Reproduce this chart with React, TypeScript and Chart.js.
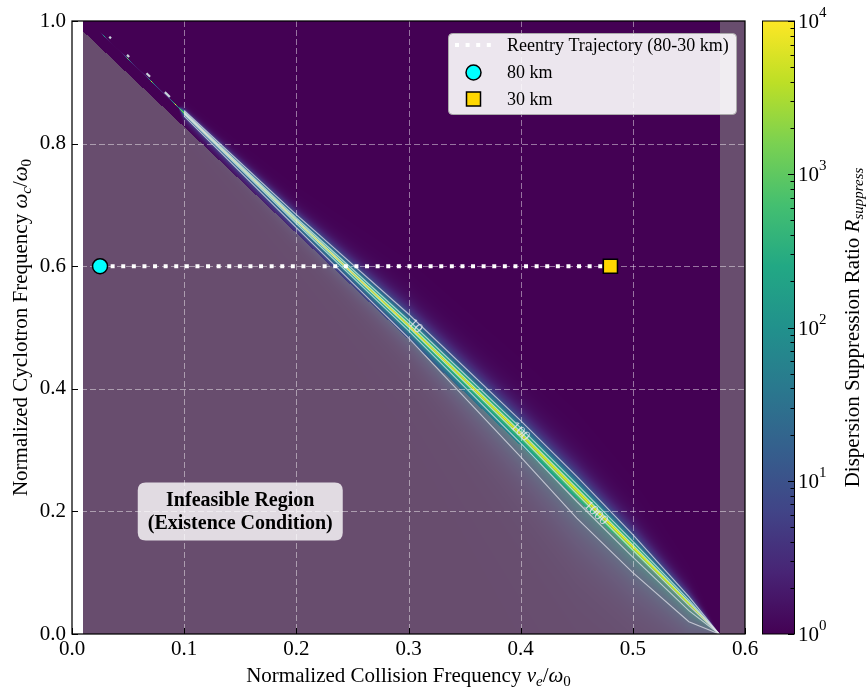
import React, { useEffect, useRef } from "react";
import { Chart, registerables } from "chart.js";
Chart.register(...registerables);

// ---------------- data ----------------
const xTicks = [0, 0.1, 0.2, 0.3, 0.4, 0.5, 0.6];
const yTicks = [0, 0.2, 0.4, 0.6, 0.8, 1.0];
const cbarExponents = [0, 1, 2, 3, 4];

// ridge of the suppression ratio (peak ~1e4) and distance to the R=10 contour on each side
const ridgeX = [0.01, 0.095, 0.1, 0.2, 0.3, 0.4, 0.45, 0.5, 0.55, 0.577];
const ridgeY = [1.008, 0.859, 0.85, 0.674, 0.503, 0.326, 0.234, 0.142, 0.05, 0.0];
const ridgeUp10 = [0, 0.0004, 0.004, 0.01, 0.019, 0.022, 0.023, 0.02, 0.011, 0];
const ridgeDn10 = [0, 0.0004, 0.005, 0.011, 0.02, 0.037, 0.045, 0.042, 0.03, 0];
const contourLevels = [10, 100, 1000];
const ridgeDotsX = [0.034, 0.05, 0.068, 0.085];
const ridgeDotsY = [0.973, 0.943, 0.912, 0.88];
const contourLabelX = [0.306, 0.3994, 0.467];
const contourLabelY = [0.502, 0.33, 0.197];

// infeasible region (existence condition)
const infeasibleX = [0.01, 0.5774];
const infeasibleY = [0.983, 0.0];
const infeasibleRightX = 0.5774;
const dataLeftX = 0.01;

// reentry trajectory
const trajectoryX = [0.025, 0.48];
const trajectoryY = [0.6, 0.6];
const marker80 = [0.025, 0.6];
const marker30 = [0.48, 0.6];
const legendLabels = ["Reentry Trajectory (80-30 km)", "80 km", "30 km"];
const regionLabel = ["Infeasible Region", "(Existence Condition)"];
const regionLabelPos = [0.15, 0.2];

// ---------------- helpers ----------------
const FONT = '"Liberation Serif", "Times New Roman", "DejaVu Serif", serif';
const LN4 = Math.log(4);
const P_UP = 0.9;
const P_DN = 0.75;

const VIRIDIS_HEX = ["#440154", "#482475", "#414487", "#355f8d", "#2a788e", "#21918c", "#22a884", "#44bf70", "#7ad151", "#bddf26", "#fde725"];
const VIRIDIS = VIRIDIS_HEX.map((h) => [parseInt(h.slice(1, 3), 16), parseInt(h.slice(3, 5), 16), parseInt(h.slice(5, 7), 16)]);
function viridis(t: number) {
  const tt = Math.max(0, Math.min(1, t)) * (VIRIDIS.length - 1);
  const i = Math.min(VIRIDIS.length - 2, Math.floor(tt));
  const f = tt - i;
  const a = VIRIDIS[i], b = VIRIDIS[i + 1];
  return [a[0] + (b[0] - a[0]) * f, a[1] + (b[1] - a[1]) * f, a[2] + (b[2] - a[2]) * f];
}
function interp(xs: number[], ys: number[], x: number) {
  if (x <= xs[0]) return ys[0];
  const n = xs.length;
  if (x >= xs[n - 1]) return ys[n - 1];
  for (let i = 0; i < n - 1; i++) {
    if (x <= xs[i + 1]) {
      const f = (x - xs[i]) / (xs[i + 1] - xs[i]);
      return ys[i] + (ys[i + 1] - ys[i]) * f;
    }
  }
  return ys[n - 1];
}
function contourOffset(level: number, w: number, p: number) {
  return w * Math.pow(Math.log(4 / Math.log10(level)) / LN4, 1 / p);
}

type Part = { t: string; it?: boolean; b?: boolean; s: number; dy?: number };
function fontOf(p: Part) {
  return `${p.b ? "bold " : ""}${p.it ? "italic " : ""}${p.s}px ${FONT}`;
}
function drawRich(ctx: CanvasRenderingContext2D, parts: Part[], x: number, y: number, align: "left" | "center") {
  ctx.textBaseline = "alphabetic";
  ctx.textAlign = "left";
  let total = 0;
  for (const p of parts) {
    ctx.font = fontOf(p);
    total += ctx.measureText(p.t).width;
  }
  let cx = align === "center" ? x - total / 2 : x;
  for (const p of parts) {
    ctx.font = fontOf(p);
    ctx.fillText(p.t, cx, y + (p.dy || 0));
    cx += ctx.measureText(p.t).width;
  }
}
function roundRectPath(ctx: CanvasRenderingContext2D, x: number, y: number, w: number, h: number, r: number) {
  ctx.beginPath();
  ctx.moveTo(x + r, y);
  ctx.lineTo(x + w - r, y);
  ctx.quadraticCurveTo(x + w, y, x + w, y + r);
  ctx.lineTo(x + w, y + h - r);
  ctx.quadraticCurveTo(x + w, y + h, x + w - r, y + h);
  ctx.lineTo(x + r, y + h);
  ctx.quadraticCurveTo(x, y + h, x, y + h - r);
  ctx.lineTo(x, y + r);
  ctx.quadraticCurveTo(x, y, x + r, y);
  ctx.closePath();
}

// ---------------- plugins ----------------
const heatmapPlugin = {
  id: "heatmap",
  beforeDraw(chart: any) {
    const { ctx, chartArea: ca } = chart;
    const xs = chart.scales.x, ys = chart.scales.y;
    const L = Math.round(ca.left), T = Math.round(ca.top), R = Math.round(ca.right), B = Math.round(ca.bottom);
    const W = R - L, H = B - T;
    const img = ctx.createImageData(W, H);
    const d = img.data;
    const yvals = new Float64Array(H);
    for (let j = 0; j < H; j++) yvals[j] = ys.getValueForPixel(T + j + 0.5);
    for (let i = 0; i < W; i++) {
      const xv = xs.getValueForPixel(L + i + 0.5);
      const white = xv < dataLeftX;
      const inRidge = xv >= ridgeX[0] && xv <= ridgeX[ridgeX.length - 1];
      const yr = interp(ridgeX, ridgeY, xv);
      const wu = interp(ridgeX, ridgeUp10, xv);
      const wd = interp(ridgeX, ridgeDn10, xv);
      const by = interp(infeasibleX, infeasibleY, xv);
      for (let j = 0; j < H; j++) {
        const k = (j * W + i) * 4;
        if (white) {
          d[k] = d[k + 1] = d[k + 2] = 255;
          d[k + 3] = 255;
          continue;
        }
        const yv = yvals[j];
        let lr = 0;
        if (inRidge) {
          const dd = yv - yr;
          const w = dd >= 0 ? wu : wd;
          if (w > 1e-7) lr = 4 * Math.exp(-LN4 * Math.pow(Math.abs(dd) / w, dd >= 0 ? P_UP : P_DN));
        }
        const c = viridis(lr / 4);
        let r = c[0], g = c[1], b = c[2];
        if (xv > infeasibleRightX || yv < by) {
          r = r * 0.4 + 128 * 0.6;
          g = g * 0.4 + 128 * 0.6;
          b = b * 0.4 + 128 * 0.6;
        }
        d[k] = r;
        d[k + 1] = g;
        d[k + 2] = b;
        d[k + 3] = 255;
      }
    }
    ctx.putImageData(img, L, T);

    // dashed grid
    ctx.save();
    ctx.strokeStyle = "rgba(255,255,255,0.45)";
    ctx.lineWidth = 1;
    ctx.setLineDash([6, 3]);
    for (const v of xTicks.slice(1, -1)) {
      const px = Math.round(xs.getPixelForValue(v)) + 0.5;
      ctx.beginPath();
      ctx.moveTo(px, ca.top);
      ctx.lineTo(px, ca.bottom);
      ctx.stroke();
    }
    for (const v of yTicks.slice(1, -1)) {
      const py = Math.round(ys.getPixelForValue(v)) + 0.5;
      ctx.beginPath();
      ctx.moveTo(ca.left, py);
      ctx.lineTo(ca.right, py);
      ctx.stroke();
    }
    ctx.restore();
  },
};

const overlayPlugin = {
  id: "overlay",
  afterDraw(chart: any) {
    const { ctx, chartArea: ca } = chart;
    const xs = chart.scales.x, ys = chart.scales.y;
    ctx.save();

    // contour labels
    ctx.fillStyle = "rgba(225,225,235,0.9)";
    ctx.font = `14px ${FONT}`;
    ctx.textAlign = "center";
    ctx.textBaseline = "middle";
    contourLevels.forEach((lv, i) => {
      const px = xs.getPixelForValue(contourLabelX[i]);
      const py = ys.getPixelForValue(contourLabelY[i]);
      const p2x = xs.getPixelForValue(ridgeX[5]) - xs.getPixelForValue(ridgeX[4]);
      const p2y = ys.getPixelForValue(ridgeY[5]) - ys.getPixelForValue(ridgeY[4]);
      ctx.save();
      ctx.translate(px, py);
      ctx.rotate(Math.atan2(p2y, p2x));
      ctx.fillText(String(lv), 0, 0);
      ctx.restore();
    });

    // frame
    ctx.strokeStyle = "#000";
    ctx.lineWidth = 1.25;
    ctx.strokeRect(ca.left, ca.top, ca.right - ca.left, ca.bottom - ca.top);
    // inward ticks
    ctx.lineWidth = 1;
    for (const v of xTicks) {
      const px = Math.round(xs.getPixelForValue(v)) + 0.5;
      ctx.beginPath();
      ctx.moveTo(px, ca.bottom);
      ctx.lineTo(px, ca.bottom - 6);
      ctx.stroke();
    }
    for (const v of yTicks) {
      const py = Math.round(ys.getPixelForValue(v)) + 0.5;
      ctx.beginPath();
      ctx.moveTo(ca.left, py);
      ctx.lineTo(ca.left + 6, py);
      ctx.stroke();
    }

    // colorbar
    const cbL = 762, cbR = 794, cbT = ca.top, cbB = ca.bottom;
    const grad = ctx.createLinearGradient(0, cbB, 0, cbT);
    VIRIDIS_HEX.forEach((h, i) => grad.addColorStop(i / (VIRIDIS_HEX.length - 1), h));
    ctx.fillStyle = grad;
    ctx.fillRect(cbL, cbT, cbR - cbL, cbB - cbT);
    ctx.strokeStyle = "#000";
    ctx.lineWidth = 1;
    ctx.strokeRect(cbL + 0.5, cbT, cbR - cbL, cbB - cbT);
    const cbY = (e: number) => cbB - (e / 4) * (cbB - cbT);
    for (const e of cbarExponents) {
      const y = Math.round(cbY(e)) + 0.5;
      ctx.beginPath();
      ctx.moveTo(cbR, y);
      ctx.lineTo(cbR - 6, y);
      ctx.stroke();
      if (e < 4) {
        for (let k = 2; k <= 9; k++) {
          const ym = Math.round(cbY(e + Math.log10(k))) + 0.5;
          ctx.beginPath();
          ctx.moveTo(cbR, ym);
          ctx.lineTo(cbR - 3.5, ym);
          ctx.stroke();
        }
      }
    }
    ctx.fillStyle = "#000";
    for (const e of cbarExponents) {
      const y = cbY(e);
      drawRich(ctx, [{ t: "10", s: 21, dy: 7 }, { t: String(e), s: 15, dy: -4 }], 798, y, "left");
    }
    // colorbar label
    ctx.save();
    ctx.translate(859, (ca.top + ca.bottom) / 2);
    ctx.rotate(-Math.PI / 2);
    drawRich(ctx, [{ t: "Dispersion Suppression Ratio ", s: 21 }, { t: "R", it: true, s: 21 }, { t: "suppress", it: true, s: 15, dy: 4 }], 0, 0, "center");
    ctx.restore();

    // axis titles
    drawRich(
      ctx,
      [
        { t: "Normalized Collision Frequency ", s: 21 },
        { t: "ν", it: true, s: 21 },
        { t: "e", it: true, s: 15, dy: 4 },
        { t: "/", s: 21 },
        { t: "ω", it: true, s: 21 },
        { t: "0", s: 15, dy: 4 },
      ],
      (ca.left + ca.right) / 2,
      682,
      "center"
    );
    ctx.save();
    ctx.translate(27, (ca.top + ca.bottom) / 2);
    ctx.rotate(-Math.PI / 2);
    drawRich(
      ctx,
      [
        { t: "Normalized Cyclotron Frequency ", s: 21 },
        { t: "ω", it: true, s: 21 },
        { t: "c", it: true, s: 15, dy: 4 },
        { t: "/", s: 21 },
        { t: "ω", it: true, s: 21 },
        { t: "0", s: 15, dy: 4 },
      ],
      0,
      0,
      "center"
    );
    ctx.restore();

    // infeasible region label
    const bx = xs.getPixelForValue(regionLabelPos[0]);
    const by = ys.getPixelForValue(regionLabelPos[1]);
    roundRectPath(ctx, bx - 102.5, by - 29, 205, 58, 8);
    ctx.fillStyle = "rgba(255,255,255,0.8)";
    ctx.fill();
    ctx.fillStyle = "#000";
    ctx.font = `bold 20px ${FONT}`;
    ctx.textAlign = "center";
    ctx.textBaseline = "middle";
    ctx.fillText(regionLabel[0], bx, by - 11);
    ctx.fillText(regionLabel[1], bx, by + 12);

    // legend
    const lx = 448, ly = 33, lw = 288, lh = 81;
    roundRectPath(ctx, lx + 0.5, ly + 0.5, lw, lh, 4);
    ctx.fillStyle = "rgba(255,255,255,0.9)";
    ctx.fill();
    ctx.strokeStyle = "rgba(170,170,170,1)";
    ctx.lineWidth = 1;
    ctx.stroke();
    const rows = [45, 72.5, 99];
    ctx.save();
    ctx.strokeStyle = "#fff";
    ctx.lineWidth = 4;
    ctx.lineCap = "butt";
    ctx.setLineDash([4, 6.6]);
    ctx.beginPath();
    ctx.moveTo(455, rows[0]);
    ctx.lineTo(495, rows[0]);
    ctx.stroke();
    ctx.restore();
    ctx.beginPath();
    ctx.arc(473.5, rows[1], 7.5, 0, Math.PI * 2);
    ctx.fillStyle = "#00ffff";
    ctx.fill();
    ctx.strokeStyle = "#000";
    ctx.lineWidth = 1.5;
    ctx.stroke();
    ctx.fillStyle = "#ffd700";
    ctx.fillRect(466.5, rows[2] - 7, 14, 14);
    ctx.strokeRect(466.5, rows[2] - 7, 14, 14);
    ctx.fillStyle = "#000";
    ctx.font = `18px ${FONT}`;
    ctx.textAlign = "left";
    ctx.textBaseline = "middle";
    legendLabels.forEach((t, i) => ctx.fillText(t, 507, rows[i] + 1));

    ctx.restore();
  },
};

// ---------------- datasets ----------------
function buildContours() {
  const sets: any[] = [];
  for (const lv of contourLevels) {
    for (const side of [1, -1]) {
      const data: { x: number; y: number }[] = [];
      for (let i = 2; i < ridgeX.length; i++) {
        const w = side > 0 ? ridgeUp10[i] : ridgeDn10[i];
        const p = side > 0 ? P_UP : P_DN;
        data.push({ x: ridgeX[i], y: ridgeY[i] + side * contourOffset(lv, w, p) });
      }
      sets.push({
        type: "line",
        label: `contour ${lv}`,
        data,
        borderColor: "rgba(225,225,235,0.75)",
        borderWidth: 1.1,
        pointRadius: 0,
        fill: false,
        tension: 0,
      });
    }
  }
  return sets;
}

export default function App() {
  const ref = useRef<HTMLCanvasElement | null>(null);
  useEffect(() => {
    if (!ref.current) return;
    const chart = new Chart(ref.current, {
      type: "scatter",
      data: {
        datasets: [
          {
            label: legendLabels[2],
            data: [{ x: marker30[0], y: marker30[1] }],
            pointStyle: "rect",
            pointRadius: 10,
            backgroundColor: "#ffd700",
            borderColor: "#000",
            borderWidth: 1.5,
          },
          {
            label: legendLabels[1],
            data: [{ x: marker80[0], y: marker80[1] }],
            pointStyle: "circle",
            pointRadius: 7.5,
            backgroundColor: "#00ffff",
            borderColor: "#000",
            borderWidth: 1.5,
          },
          {
            type: "line",
            label: legendLabels[0],
            data: trajectoryX.map((x, i) => ({ x, y: trajectoryY[i] })),
            borderColor: "#ffffff",
            borderWidth: 4,
            borderDash: [4, 6.6],
            borderCapStyle: "butt",
            pointRadius: 0,
            fill: false,
          },
          ...buildContours(),
          {
            label: "ridge dots",
            data: ridgeDotsX.map((x, i) => ({ x, y: ridgeDotsY[i] })),
            pointStyle: "line",
            rotation: 44,
            pointRadius: [1.2, 1.5, 2.5, 3.5],
            pointBorderColor: "rgba(215,235,235,0.9)",
            borderColor: "rgba(215,235,235,0.9)",
            backgroundColor: "rgba(215,235,235,0.9)",
            pointBorderWidth: 2.2,
            borderWidth: 2.2,
          },
        ] as any,
      },
      options: {
        responsive: false,
        devicePixelRatio: 1,
        animation: false,
        events: [],
        layout: { padding: { left: 0, right: 123, top: 21, bottom: 0 } },
        plugins: { legend: { display: false }, tooltip: { enabled: false } },
        scales: {
          x: {
            type: "linear",
            min: 0,
            max: 0.6,
            afterFit: (s: any) => {
              s.height = 54;
            },
            afterBuildTicks: (s: any) => {
              s.ticks = xTicks.map((v) => ({ value: v }));
            },
            ticks: {
              callback: (v: any) => Number(v).toFixed(1),
              font: { family: FONT, size: 21 },
              color: "#000",
              padding: 3,
              maxRotation: 0,
              autoSkip: false,
            },
            grid: { display: false, drawTicks: false },
            border: { display: false },
          },
          y: {
            type: "linear",
            min: 0,
            max: 1,
            afterFit: (s: any) => {
              s.width = 72;
            },
            afterBuildTicks: (s: any) => {
              s.ticks = yTicks.map((v) => ({ value: v }));
            },
            ticks: {
              callback: (v: any) => Number(v).toFixed(1),
              font: { family: FONT, size: 21 },
              color: "#000",
              padding: 6,
              autoSkip: false,
            },
            grid: { display: false, drawTicks: false },
            border: { display: false },
          },
        },
      } as any,
      plugins: [heatmapPlugin, overlayPlugin],
    });
    return () => chart.destroy();
  }, []);
  return (
    <div style={{ position: "fixed", left: 0, top: 0, width: 868, height: 688, background: "#fff" }}>
      <canvas ref={ref} width={868} height={688} style={{ width: 868, height: 688, display: "block" }} />
    </div>
  );
}
